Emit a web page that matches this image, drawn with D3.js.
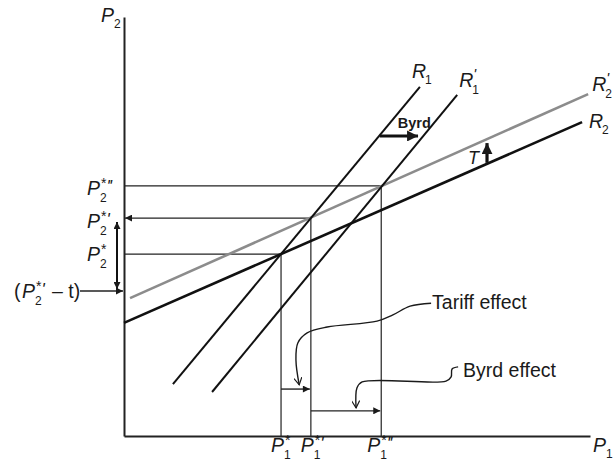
<!DOCTYPE html>
<html>
<head>
<meta charset="utf-8">
<title>Tariff and Byrd effect</title>
<script src="https://cdnjs.cloudflare.com/ajax/libs/d3/7.8.5/d3.min.js"></script>
<style>
  body { margin: 0; background: #fff; }
  text { font-family: "Liberation Sans", Arial, sans-serif; fill: #1a1a1a; }
  .prime { font-style: italic; letter-spacing: -1px; }
</style>
</head>
<body>
<script>
// prices on a 0-100 scale for both axes
var p1Eq = [33.7, 40.1, 55.2];          // P1*, P1*', P1*''
var p2Eq = [43.4, 52.0, 59.7];          // P2*, P2*', P2*''
var eqPrimes = [0, 1, 2];               // primes after the star
var p2MinusT = 34.6;

// reaction curves, [P1, P2] at both ends
var r1  = [[10.5, 12.4], [63.5, 83.3]];
var r1b = [[18.9, 10.5], [71.5, 81.4]];
var r2  = [[0, 27.0], [98.3, 74.9]];
var r2b = [[1.3, 32.9], [99.6, 81.6]];

// shift arrows and effect arrows
var byrdShift = [[54.9, 71.6], [63.1, 71.6]];
var tShift = [[77.9, 65.2], [77.9, 69.9]];
var tariffEffectY = 11.2;
var byrdEffectY = 6.0;

// hand drawn leader lines
var tariffLeader = [[65.9, 31.7], [61.4, 31.0], [57.7, 28.9], [54.3, 27.4], [43.6, 26.0], [39.3, 24.6], [37.3, 22.2], [36.9, 18.1], [37.6, 12.2]];
var byrdLeader = [[71.7, 16.5], [70.4, 16.0], [70.2, 14.1], [69.1, 13.1], [51.1, 12.9], [50.0, 11.5], [49.8, 6.7]];

var W = 615, H = 463;
var svg = d3.select("body").append("svg").attr("width", W).attr("height", H);

var x = d3.scaleLinear().domain([0, 100]).range([124, 590]);
var y = d3.scaleLinear().domain([0, 100]).range([436, 17]);

var defs = svg.append("defs");
function marker(id, w, h, open) {
    defs.append("marker").attr("id", id)
        .attr("viewBox", "0 0 10 10").attr("refX", open ? 9 : 10).attr("refY", 5)
        .attr("markerWidth", w).attr("markerHeight", h)
        .attr("markerUnits", "userSpaceOnUse")
        .attr("orient", "auto-start-reverse")
        .append("path")
        .attr("d", open ? "M0,0 L9,5 L0,10" : "M0,0 L10,5 L0,10 z")
        .attr("fill", open ? "none" : "#1a1a1a")
        .attr("stroke", open ? "#1a1a1a" : "none")
        .attr("stroke-width", open ? 1.5 : 0);
}
marker("head", 9, 7, false);
marker("big", 11, 11, false);
marker("open", 9, 8, true);

// axes
svg.append("g").attr("transform", "translate(0," + y(0) + ")")
    .call(d3.axisBottom(x).ticks(0).tickSizeOuter(0));
svg.append("g").attr("transform", "translate(" + x(0) + ",0)")
    .call(d3.axisLeft(y).ticks(0).tickSizeOuter(0));
svg.selectAll(".domain").attr("stroke", "#222").attr("stroke-width", 2);

// guide lines
var guides = svg.append("g").attr("stroke", "#222").attr("stroke-width", 1.2);
p1Eq.forEach(function (p1, i) {
    guides.append("line")
        .attr("x1", x(p1)).attr("x2", x(p1))
        .attr("y1", y(p2Eq[i])).attr("y2", y(0));
    var h = guides.append("line")
        .attr("x1", x(p1)).attr("x2", x(0) + 1)
        .attr("y1", y(p2Eq[i])).attr("y2", y(p2Eq[i]));
    if (i === 1) h.attr("marker-end", "url(#head)");
});

// reaction curves
var line = d3.line().x(function (d) { return x(d[0]); }).y(function (d) { return y(d[1]); });
svg.append("path").attr("d", line(r2b)).attr("stroke", "#8c8c8c").attr("stroke-width", 2.6).attr("fill", "none");
svg.append("path").attr("d", line(r2)).attr("stroke", "#111").attr("stroke-width", 2.6).attr("fill", "none");
svg.append("path").attr("d", line(r1)).attr("stroke", "#111").attr("stroke-width", 2).attr("fill", "none");
svg.append("path").attr("d", line(r1b)).attr("stroke", "#111").attr("stroke-width", 2).attr("fill", "none");

// shift arrows
svg.append("path").attr("d", line(byrdShift)).attr("stroke", "#111").attr("stroke-width", 3.2)
    .attr("marker-end", "url(#big)");
svg.append("path").attr("d", line(tShift)).attr("stroke", "#111").attr("stroke-width", 3.2)
    .attr("marker-end", "url(#big)");
svg.append("text").attr("x", x(byrdShift[0][0]) + 18).attr("y", y(byrdShift[0][1]) - 8)
    .attr("font-weight", "bold").attr("font-size", 14.5).text("Byrd");
svg.append("text").attr("x", x(tShift[0][0]) - 19).attr("y", y(tShift[0][1]) + 1)
    .attr("font-style", "italic").attr("font-size", 18).text("T");

// effect arrows
svg.append("line").attr("x1", x(p1Eq[0])).attr("x2", x(p1Eq[1]) - 1)
    .attr("y1", y(tariffEffectY)).attr("y2", y(tariffEffectY))
    .attr("stroke", "#222").attr("stroke-width", 1.4).attr("marker-end", "url(#head)");
svg.append("line").attr("x1", x(p1Eq[1])).attr("x2", x(p1Eq[2]) - 1)
    .attr("y1", y(byrdEffectY)).attr("y2", y(byrdEffectY))
    .attr("stroke", "#222").attr("stroke-width", 1.4).attr("marker-end", "url(#head)");

// leader lines
var curvy = d3.line().curve(d3.curveCatmullRom.alpha(0.5))
    .x(function (d) { return x(d[0]); }).y(function (d) { return y(d[1]); });
svg.append("path").attr("d", curvy(tariffLeader)).attr("fill", "none")
    .attr("stroke", "#1a1a1a").attr("stroke-width", 1.4).attr("marker-end", "url(#open)");
svg.append("path").attr("d", curvy(byrdLeader)).attr("fill", "none")
    .attr("stroke", "#1a1a1a").attr("stroke-width", 1.4).attr("marker-end", "url(#open)");
svg.append("text").attr("x", x(tariffLeader[0][0]) + 1).attr("y", y(tariffLeader[0][1]) + 6)
    .attr("font-size", 19.5).text("Tariff effect");
svg.append("text").attr("x", x(byrdLeader[0][0]) + 5).attr("y", y(byrdLeader[0][1]) + 10)
    .attr("font-size", 19.5).text("Byrd effect");

// tariff gap: double arrow and (P2*' - t)
svg.append("line").attr("x1", x(0) - 7).attr("x2", x(0) - 7)
    .attr("y1", y(p2Eq[1]) + 4).attr("y2", y(p2MinusT) - 2)
    .attr("stroke", "#111").attr("stroke-width", 2)
    .attr("marker-start", "url(#head)").attr("marker-end", "url(#head)");
svg.append("line").attr("x1", 80).attr("x2", x(0) - 1)
    .attr("y1", y(p2MinusT)).attr("y2", y(p2MinusT))
    .attr("stroke", "#222").attr("stroke-width", 1.4).attr("marker-end", "url(#head)");

// P/R labels with stacked super- and subscripts, one text element each
function symbol(letter, px, py, star, primes, sub) {
    var t = svg.append("text").attr("x", px).attr("y", py);
    t.append("tspan").attr("font-style", "italic").attr("font-size", 19.5).text(letter);
    if (star) t.append("tspan").attr("x", px + 14).attr("y", py - 7)
        .attr("font-size", 14).text("*");
    if (primes) {
        var pr = t.append("tspan").attr("class", "prime")
            .text(d3.range(primes).map(function () { return "'"; }).join(""));
        if (star) pr.attr("font-size", 17).attr("dy", 4);
        else pr.attr("font-size", 15).attr("x", px + 14).attr("y", py - 8);
    }
    if (sub) t.append("tspan").attr("x", px + 13).attr("y", py + (star || primes ? 7 : 6))
        .attr("font-size", 12).text(sub);
}

symbol("P", x(0) - 23, y(100) + 5, false, 0, "2");
symbol("P", x(100) + 3, y(0) + 16, false, 0, "1");

var bottomShift = [10, 10, 14];
p1Eq.forEach(function (p1, i) {
    symbol("P", x(p1) - bottomShift[i], y(0) + 16, true, eqPrimes[i], "1");
});
var leftBase = [7, 10, 9];
p2Eq.forEach(function (p2, i) {
    symbol("P", x(0) - 37, y(p2) + leftBase[i], true, eqPrimes[i], "2");
});

var tBase = y(p2MinusT) + 7;
svg.append("text").attr("x", 14).attr("y", tBase).attr("font-size", 19.5).text("(");
symbol("P", 22, tBase, true, 1, "2");
svg.append("text").attr("x", 52).attr("y", tBase).attr("font-size", 19.5).text("\u2013 t)");

symbol("R", x(r1[1][0]) - 8, y(r1[1][1]) - 9, false, 0, "1");
symbol("R", x(r1b[1][0]) + 2, y(r1b[1][1]) - 8, false, 1, "1");
symbol("R", x(r2b[1][0]) + 4, y(r2b[1][1]) - 3, false, 1, "2");
symbol("R", x(r2[1][0]) + 7, y(r2[1][1]) + 6, false, 0, "2");
</script>
</body>
</html>
